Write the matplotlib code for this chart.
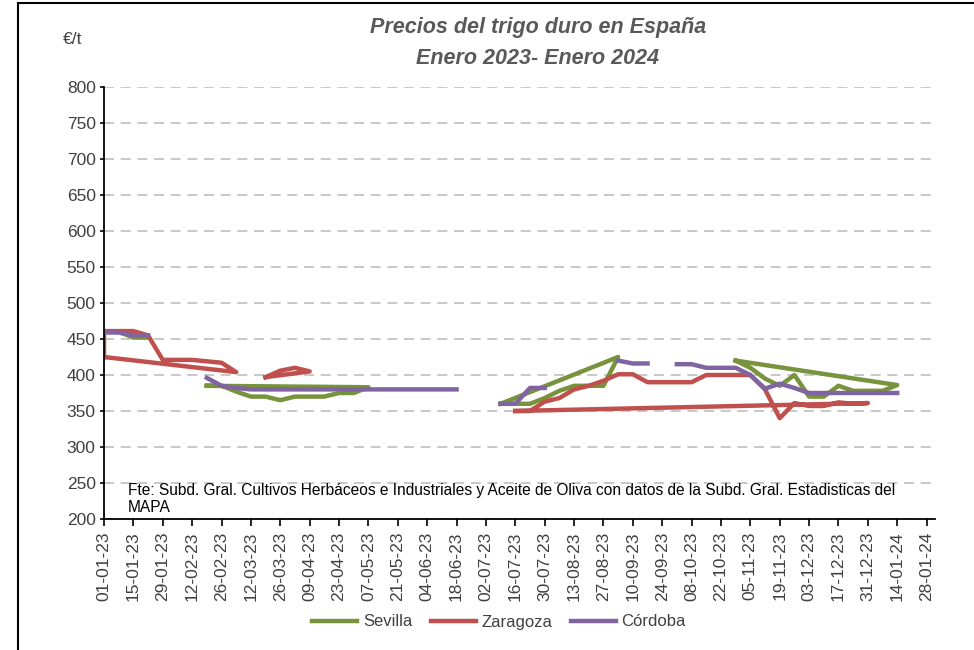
import numpy as np
import pandas as pd
import matplotlib
matplotlib.use("Agg")
import matplotlib.pyplot as plt
import matplotlib.dates as mdates
from matplotlib.lines import Line2D

# data in the order the original sheet plots it (None = gap in the line)
sevilla_dates = ["01-01-23", "08-01-23", "15-01-23", "22-01-23", None,
                 "19-02-23", "26-02-23", "05-03-23", "12-03-23", "19-03-23", "26-03-23",
                 "02-04-23", "09-04-23", "16-04-23", "23-04-23", "30-04-23", "07-05-23",
                 "19-02-23", None,
                 "09-07-23", "16-07-23", "23-07-23", "30-07-23", "06-08-23", "13-08-23",
                 "20-08-23", "27-08-23", "03-09-23", "09-07-23", None,
                 "29-10-23", "05-11-23", "12-11-23", "19-11-23", "26-11-23", "03-12-23",
                 "10-12-23", "17-12-23", "24-12-23", "31-12-23", "07-01-24", "14-01-24",
                 "29-10-23"]
sevilla_vals = [460, 460, 452, 452, None,
                385, 385, 377, 370, 370, 365, 370, 370, 370, 375, 375, 383,
                385, None,
                360, 360, 360, 368, 378, 385, 385, 385, 425, 360, None,
                420, 410, 395, 385, 400, 370, 370, 385, 378, 378, 378, 386,
                420]

zaragoza_dates = ["01-01-23", "01-01-23", "08-01-23", "15-01-23", "22-01-23", "29-01-23",
                  "05-02-23", "12-02-23", "19-02-23", "26-02-23", "05-03-23", "01-01-23", None,
                  "19-03-23", "26-03-23", "02-04-23", "09-04-23", "19-03-23", None,
                  "16-07-23", "23-07-23", "30-07-23", "06-08-23", "13-08-23", "20-08-23",
                  "27-08-23", "03-09-23", "10-09-23", "17-09-23", "24-09-23", "01-10-23",
                  "08-10-23", "15-10-23", "22-10-23", "29-10-23", "05-11-23", "12-11-23",
                  "19-11-23", "26-11-23", "03-12-23", "10-12-23", "17-12-23", "24-12-23",
                  "31-12-23", "16-07-23"]
zaragoza_vals = [425, 461, 461, 461, 455, 421, 421, 421, 419, 417, 404, 425, None,
                 397, 406, 410, 405, 397, None,
                 350, 350, 363, 368, 380, 385, 392, 401, 401, 390, 390, 390,
                 390, 400, 400, 400, 400, 380, 340, 361, 357, 357, 362, 360,
                 361, 350]

cordoba_dates = ["01-01-23", "08-01-23", "15-01-23", "22-01-23", None,
                 "19-02-23", "26-02-23", "05-03-23", "12-03-23", "19-03-23", "26-03-23",
                 "02-04-23", "09-04-23", "16-04-23", "23-04-23", "30-04-23", "07-05-23",
                 "14-05-23", "21-05-23", "28-05-23", "04-06-23", "11-06-23", "18-06-23", None,
                 "09-07-23", "16-07-23", "23-07-23", "30-07-23", None,
                 "03-09-23", "10-09-23", "17-09-23", None,
                 "01-10-23", "08-10-23", "15-10-23", "22-10-23", "29-10-23", "05-11-23",
                 "12-11-23", "19-11-23", "26-11-23", "03-12-23", "10-12-23", "17-12-23",
                 "24-12-23", "31-12-23", "07-01-24", "14-01-24"]
cordoba_vals = [459, 459, 455, 455, None,
                396, 385, 382, 380, 380, 380, 380, 380, 380, 380, 380, 380,
                380, 380, 380, 380, 380, 380, None,
                360, 360, 382, 382, None,
                420, 416, 416, None,
                415, 415, 410, 410, 410, 400, 381, 388, 382, 375, 375, 375,
                375, 375, 375, 375]

series = [("Sevilla", sevilla_dates, sevilla_vals, "#77933C"),
          ("Zaragoza", zaragoza_dates, zaragoza_vals, "#C0504D"),
          ("Córdoba", cordoba_dates, cordoba_vals, "#8064A2")]

fig = plt.figure(figsize=(9.74, 6.5), dpi=100)
ax = fig.add_axes([104 / 974, 1 - 519 / 650, (935 - 104) / 974, (519 - 87) / 650])

for name, d, v, col in series:
    x = [mdates.date2num(pd.to_datetime(s, format="%d-%m-%y")) if s else np.nan for s in d]
    y = [np.nan if val is None else val for val in v]
    ax.plot(x, y, color=col, lw=3.2, label=name, solid_joinstyle="round")

start = pd.Timestamp("2023-01-01")
ticks = pd.date_range(start, "2024-01-28", freq="14D")
ax.set_xticks(mdates.date2num(ticks))
ax.set_xticklabels([t.strftime("%d-%m-%y") for t in ticks], rotation=90,
                   fontsize=12.5, color="#404040", family="Liberation Sans")
ax.set_xlim(mdates.date2num(start), mdates.date2num(start + pd.Timedelta(days=396)))

ax.set_ylim(200, 800)
ax.set_yticks(range(200, 801, 50))
ax.set_yticklabels([str(t) for t in range(200, 801, 50)], fontsize=12.5,
                   color="#404040", family="Liberation Sans")
ax.yaxis.grid(True, color="#BFBFBF", lw=1.2, ls=(0, (6, 4)))
ax.set_axisbelow(True)
for s in ["top", "right"]:
    ax.spines[s].set_visible(False)
for s in ["left", "bottom"]:
    ax.spines[s].set_color("#000000")
    ax.spines[s].set_linewidth(1.3)
ax.tick_params(axis="x", direction="out", length=5, width=1.2, color="#000000", pad=4)
ax.tick_params(axis="y", direction="out", length=3, width=1.2, color="#000000", pad=3)

fig.text(538 / 974, 1 - 27 / 650, "Precios del trigo duro en España", ha="center", va="center",
         fontsize=15.5, style="italic", weight="bold", color="#595959", family="Liberation Sans")
fig.text(538 / 974, 1 - 58 / 650, "Enero 2023- Enero 2024", ha="center", va="center",
         fontsize=15.5, style="italic", weight="bold", color="#595959", family="Liberation Sans")
fig.text(63 / 974, 1 - 40 / 650, "€/t", ha="left", va="center", fontsize=12.5,
         color="#404040", family="Liberation Sans")

fig.text(128 / 974, 1 - 499 / 650, "Fte: Subd. Gral. Cultivos Herbáceos e Industriales y Aceite de Oliva "
         "con datos de la Subd. Gral. Estadisticas del\nMAPA",
         ha="left", va="center", fontsize=11.2, color="#000000", family="Liberation Sans",
         linespacing=1.1)

leg = fig.legend(loc="center", bbox_to_anchor=(499 / 974, 1 - 622 / 650), ncol=3, frameon=False,
                 prop={"family": "Liberation Sans", "size": 12}, handlelength=2.7,
                 columnspacing=1.1, handletextpad=0.35)
for t in leg.get_texts():
    t.set_color("#404040")

# outer chart border (left and top edges visible in the crop)
fig.add_artist(Line2D([18 / 974, 18 / 974], [0, 1 - 3 / 650], color="black", lw=1.5))
fig.add_artist(Line2D([18 / 974, 1], [1 - 3 / 650, 1 - 3 / 650], color="black", lw=1.5))

fig.savefig("out.png", dpi=100)
